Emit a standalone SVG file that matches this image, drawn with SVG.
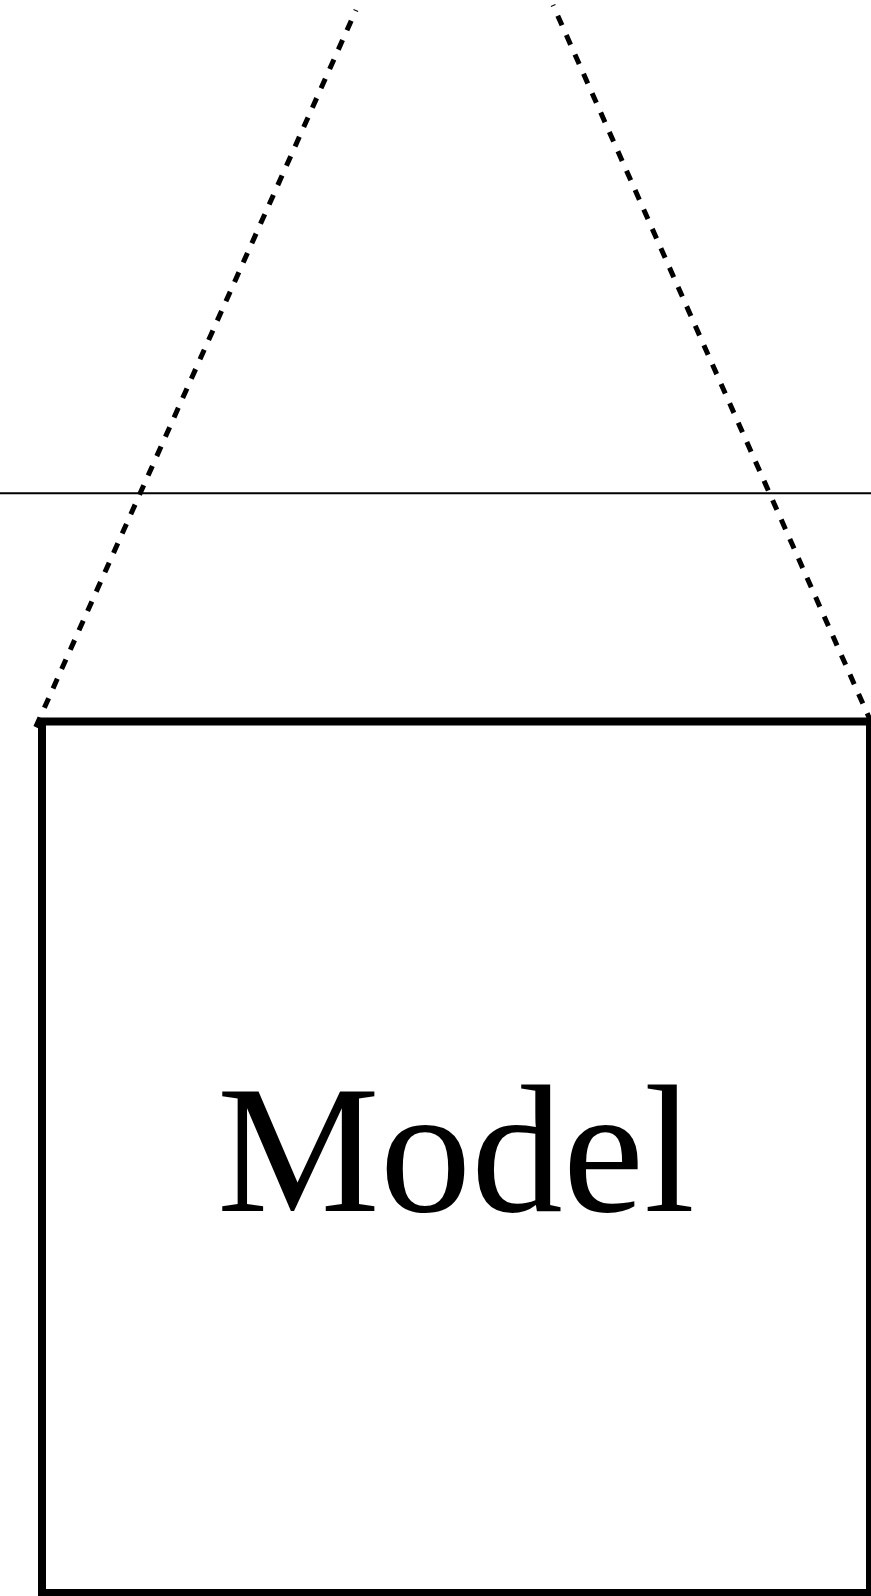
<svg xmlns="http://www.w3.org/2000/svg" width="871" height="1596" viewBox="0 0 871 1596">
<style>
.dash{fill:none;stroke:#000;stroke-width:5;stroke-dasharray:10.5 10.7}
.box{fill:#fff;stroke:#000;stroke-width:8}
.lbl{font-family:"Liberation Serif","DejaVu Serif",serif;font-size:183px;fill:#000;text-anchor:middle}
</style>
<rect width="871" height="1596" fill="#fff"/>
<g id="connectors">
<line x1="0" y1="493.3" x2="871" y2="493.3" stroke="#000" stroke-width="2"/>
<line class="dash" x1="356" y1="10" x2="34" y2="731" stroke-dashoffset="9.5"/>
<line class="dash" x1="553" y1="5" x2="875" y2="731" stroke-dashoffset="9.5"/>
</g>
<g id="model">
<rect class="box" x="42" y="721.5" width="828" height="871.5"/>
<text class="lbl" x="456" y="1211">Model</text>
</g>
</svg>
